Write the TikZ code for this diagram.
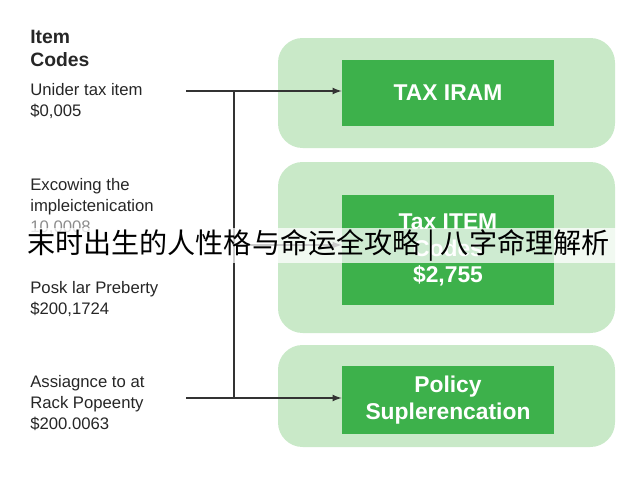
\documentclass[tikz,border=0pt]{standalone}
\usepackage{fontspec}
\setmainfont{Liberation Sans}
\newfontfamily\cjk{Noto Sans CJK SC}
\usetikzlibrary{positioning}
\definecolor{paleGreen}{HTML}{C9E9C8}
\definecolor{boxGreen}{HTML}{3DB14B}
\definecolor{lineGray}{HTML}{333333}
\tikzset{
    outer/.style={fill=paleGreen, draw=none, rounded corners=14pt},
    inner/.style={fill=boxGreen, draw=none, text=white, font=\bfseries\fontsize{13}{15}\selectfont, align=center},
    code/.style={anchor=north west, align=left, font=\fontsize{9.5}{12}\selectfont, text=black!85, inner sep=0pt},
    link/.style={draw=lineGray, thick, -latex}
}
\begin{document}
\begin{tikzpicture}[x=0.02cm, y=-0.02cm]
    \useasboundingbox (0,0) rectangle (640,480);

    % Title of the left column
    \node[code, font=\bfseries\fontsize{11}{13}\selectfont] (title) at (30,30) {Item\\Codes};

    % Item codes
    \node[code] (c1) at (30,83) {Unider tax item\\\$0,005};
    \node[code] (c2) at (30,178) {Excowing the\\impleictenication\\\textcolor{black!45}{10,0008}};
    \node[code] (c3) at (30,281) {Posk lar Preberty\\\$200,1724};
    \node[code] (c4) at (30,375) {Assiagnce to at\\Rack Popeenty\\\$200.0063};

    % Outer panels
    \fill[outer] (278,38) rectangle (615,148);
    \fill[outer] (278,162) rectangle (615,333);
    \fill[outer] (278,345) rectangle (615,447);

    % Inner boxes
    \node[inner, minimum width=4.24cm, minimum height=1.32cm] (tax) at (448,93) {TAX IRAM};
    \node[inner, minimum width=4.24cm, minimum height=2.22cm] (codes) at (448,250) {Tax ITEM\\Codes\\\$2,755};
    \node[inner, minimum width=4.24cm, minimum height=1.36cm] (policy) at (448,400) {Policy\\Suplerencation};

    % Connectors
    \coordinate (s1) at (186,91);
    \coordinate (s4) at (186,398);
    \coordinate (top) at (234,91);
    \coordinate (bot) at (234,398);
    \coordinate (mid) at (234,245);
    \draw[draw=lineGray, thick] (top) -- (bot);
    \draw[link] (s1) -- (tax.west |- s1);
    \draw[link] (mid) -- (codes.west |- mid);
    \draw[link] (s4) -- (policy.west |- s4);

    % Banner
    \fill[white, opacity=0.75] (0,228) rectangle (640,263);
    \node[font=\cjk\fontsize{16}{18}\selectfont, anchor=west] (banner) at (21,245) {末时出生的人性格与命运全攻略 | 八字命理解析};
\end{tikzpicture}
\end{document}
